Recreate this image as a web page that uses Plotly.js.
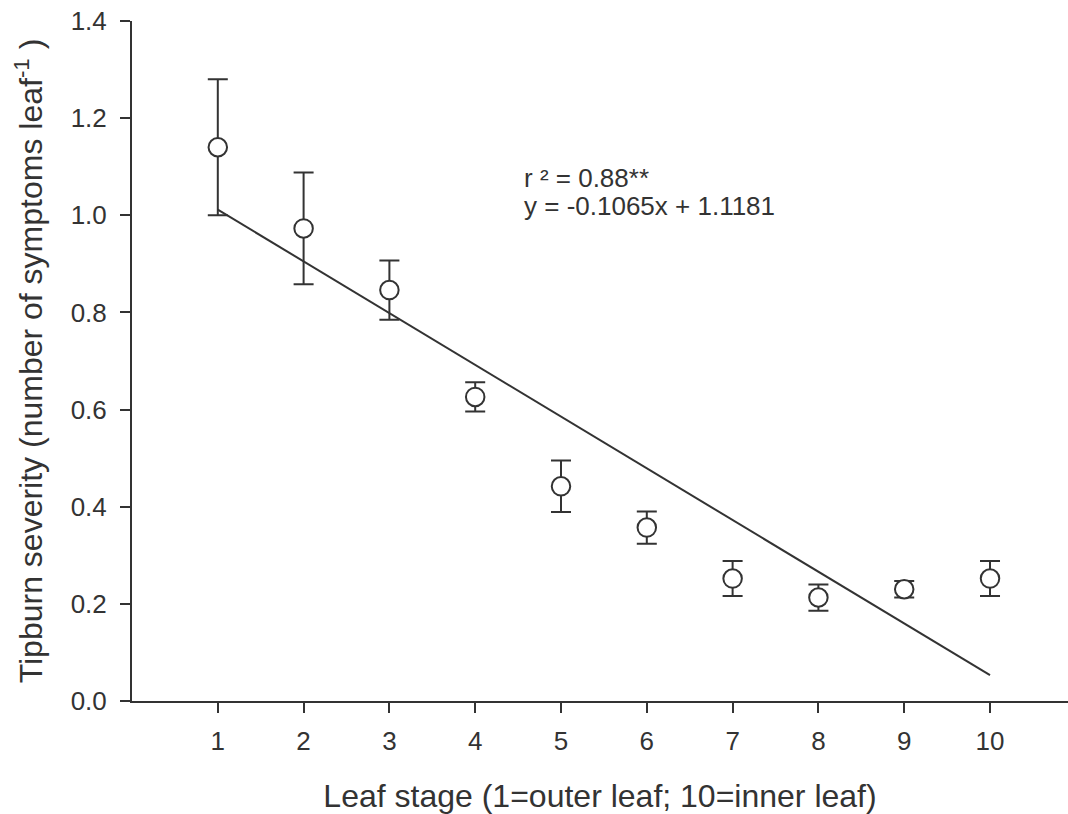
<!DOCTYPE html>
<html>
<head>
<meta charset="utf-8">
<script src="https://cdn.plot.ly/plotly-3.0.1.min.js"></script>
<style>
  html, body { margin: 0; padding: 0; background: #fff; }
  #chart { width: 1068px; height: 814px; }
</style>
</head>
<body>
<div id="chart"></div>
<script>
// Data
const leafStage = [1, 2, 3, 4, 5, 6, 7, 8, 9, 10];
const severity = [1.140, 0.973, 0.846, 0.626, 0.442, 0.357, 0.252, 0.213, 0.230, 0.252];
const severityErr = [0.140, 0.115, 0.061, 0.030, 0.053, 0.033, 0.036, 0.027, 0.017, 0.036];
// Regression line endpoints (y = -0.1065x + 1.1181 at x = 1 and x = 10)
const fitX = [1, 10];
const fitY = [1.0116, 0.0531];
const xTicks = [1, 2, 3, 4, 5, 6, 7, 8, 9, 10];
const yTicks = [0.0, 0.2, 0.4, 0.6, 0.8, 1.0, 1.2, 1.4];
const eqLines = ['r ² = 0.88**', 'y = -0.1065x + 1.1181'];

const ink = '#333333';
const fontFam = '"Liberation Sans", Arial, Helvetica, sans-serif';

const traces = [
  {
    x: fitX, y: fitY, type: 'scatter', mode: 'lines',
    line: { color: ink, width: 2 }, hoverinfo: 'skip', showlegend: false
  },
  {
    x: leafStage, y: severity, type: 'scatter', mode: 'markers',
    marker: { symbol: 'circle', size: 18.5, color: '#ffffff', line: { color: ink, width: 2 } },
    error_y: { type: 'data', array: severityErr, visible: true, color: ink, thickness: 2, width: 10 },
    showlegend: false
  }
];

const layout = {
  width: 1068, height: 814,
  margin: { l: 131.5, r: 0, t: 20.7, b: 113 },
  paper_bgcolor: '#ffffff', plot_bgcolor: '#ffffff',
  font: { family: fontFam, color: ink, size: 26 },
  showlegend: false,
  xaxis: {
    range: [0, 10.909],
    tickvals: xTicks, ticktext: xTicks.map(String),
    ticks: 'outside', ticklen: 10, tickwidth: 2, tickcolor: ink,
    showline: true, linecolor: ink, linewidth: 2,
    showgrid: false, zeroline: false,
    tickfont: { size: 26, color: ink },
    ticklabelstandoff: 6,
    title: { text: 'Leaf stage (1=outer leaf; 10=inner leaf)', font: { size: 32, color: ink }, standoff: 33 }
  },
  yaxis: {
    range: [0, 1.4],
    tickvals: yTicks, ticktext: yTicks.map(v => v.toFixed(1)),
    ticks: 'outside', ticklen: 10, tickwidth: 2, tickcolor: ink,
    showline: true, linecolor: ink, linewidth: 2,
    showgrid: false, zeroline: false,
    tickfont: { size: 26, color: ink },
    ticklabelstandoff: 8,
    title: { text: 'Tipburn severity (number of symptoms leaf<sup>-1</sup> )', font: { size: 32, color: ink }, standoff: 18 }
  },
  annotations: [
    { x: 4.545, y: 1.076, xref: 'x', yref: 'y', text: eqLines[0], showarrow: false,
      xanchor: 'left', yanchor: 'middle', font: { size: 26, color: ink } },
    { x: 4.545, y: 1.0185, xref: 'x', yref: 'y', text: eqLines[1], showarrow: false,
      xanchor: 'left', yanchor: 'middle', font: { size: 26, color: ink } }
  ]
};

Plotly.newPlot('chart', traces, layout, { displayModeBar: false, staticPlot: true });
</script>
</body>
</html>
